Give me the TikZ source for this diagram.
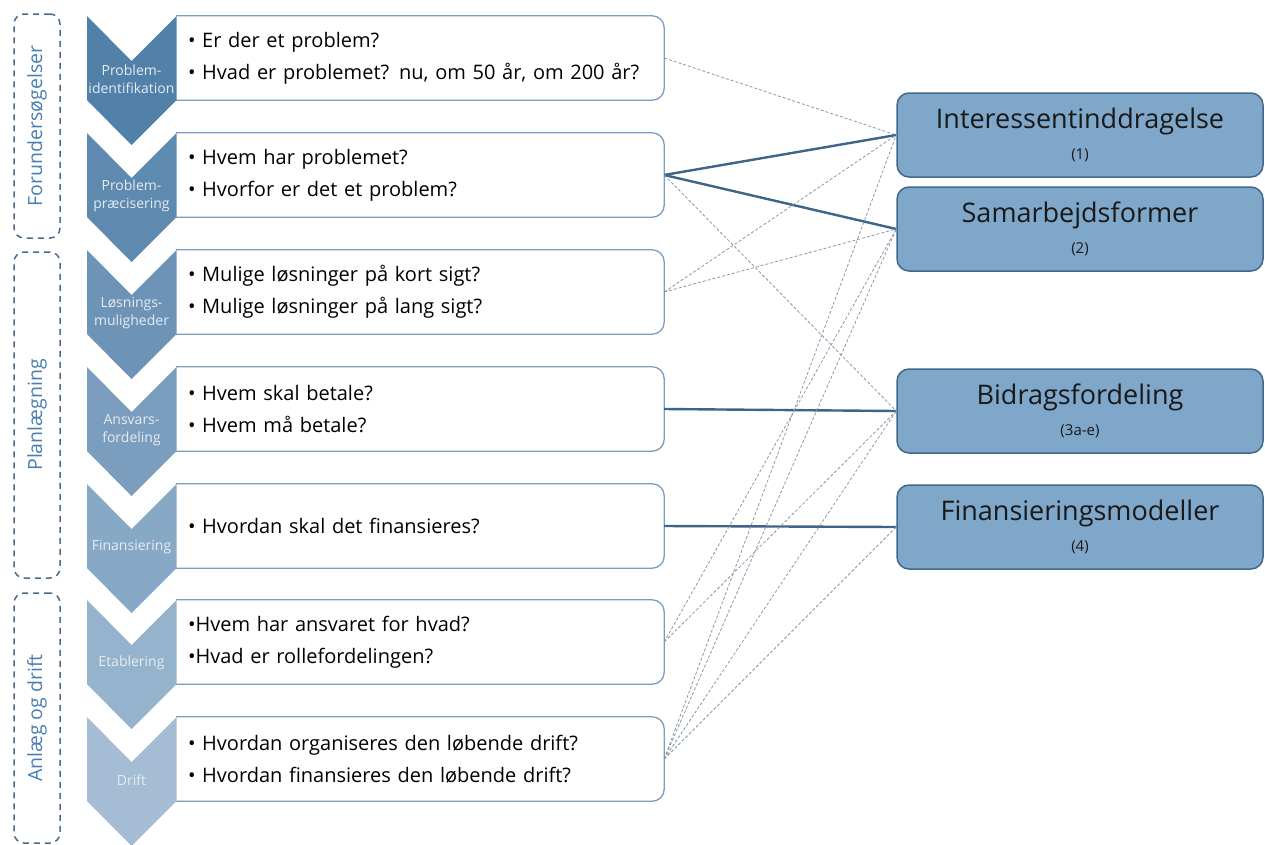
\documentclass[tikz,border=0pt]{standalone}
\usepackage{fontspec}
\setmainfont{Open Sans}
\definecolor{chevA}{HTML}{5180A9}
\definecolor{chevB}{HTML}{A4BDD4}
\definecolor{qborder}{HTML}{7C9DBD}
\definecolor{rfill}{HTML}{7FA7CA}
\definecolor{rborder}{HTML}{44688A}
\definecolor{solidc}{HTML}{3E6487}
\definecolor{dashc}{HTML}{8897AB}
\definecolor{grpc}{HTML}{4B6B8A}
\definecolor{grptext}{HTML}{4A7EB0}
\tikzset{
  qbox/.style={draw=none, minimum width=488pt, minimum height=84pt, text width=464pt,
    inner xsep=12pt, align=left, font=\fontsize{20}{32}\selectfont, text=black},
  qline/.style={draw=qborder, line width=1.3pt, rounded corners=12pt},
  rbox/.style={draw=rborder, fill=rfill, line width=1.5pt, rounded corners=12pt,
    minimum width=366pt, minimum height=84pt, align=center, text=black!90,
    font=\fontsize{27}{31}\selectfont},
  grp/.style={draw=grpc, line width=1.5pt, dash pattern=on 6pt off 5pt, rounded corners=10pt,
    minimum width=46pt, text=grptext, font=\fontsize{19.5}{22}\selectfont},
  chevlab/.style={align=center, text=white!85!chevA, font=\fontsize{14}{18}\selectfont},
  strong/.style={draw=solidc, line width=2.4pt},
  weak/.style={draw=dashc, line width=0.8pt, dash pattern=on 3pt off 2pt},
}
\newcommand{\subt}[1]{{\fontsize{15}{16}\selectfont #1}}
\begin{document}
\begin{tikzpicture}[x=1pt,y=-1pt]
\useasboundingbox (0,0) rectangle (1265,844);
% group boxes
\node[grp, minimum height=224pt] (g1) at (37,126) {\rotatebox{90}{Forundersøgelser}};
\node[grp, minimum height=326pt] (g2) at (37,415) {\rotatebox{90}{Planlægning}};
\node[grp, minimum height=250pt] (g3) at (37,718) {\rotatebox{90}{Anlæg og drift}};
% question boxes
\node[qbox] (b1) at (420,58)  {• Er der et problem?\\• Hvad er problemet? nu, om 50 år, om 200 år?};
\node[qbox] (b2) at (420,175) {• Hvem har problemet?\\• Hvorfor er det et problem?};
\node[qbox] (b3) at (420,292) {• Mulige løsninger på kort sigt?\\• Mulige løsninger på lang sigt?};
\node[qbox] (b4) at (420,409) {• Hvem skal betale?\\• Hvem må betale?};
\node[qbox] (b5) at (420,526) {• Hvordan skal det finansieres?};
\node[qbox] (b6) at (420,642) {•Hvem har ansvaret for hvad?\\•Hvad er rollefordelingen?};
\node[qbox] (b7) at (420,759) {• Hvordan organiseres den løbende drift?\\• Hvordan finansieres den løbende drift?};
\foreach \b in {b1,b2,b3,b4,b5,b6,b7}{
  \draw[qline] (\b.north west) -- (\b.north east) -- (\b.south east) -- (\b.south west);
}
% chevrons
\foreach \k/\t/\lab in {0/16/{Problem-\\identifikation},1/133/{Problem-\\præcisering},2/250/{Løsnings-\\muligheder},3/367/{Ansvars-\\fordeling},4/484/{Finansiering},5/600/{Etablering},6/717/{Drift}}{
  \pgfmathsetmacro{\p}{100-\k*100/6}
  \fill[fill=chevA!\p!chevB] (87,\t) -- (131.5,\t+45) -- (176.5,\t) -- (176.5,\t+84) -- (131.5,\t+129) -- (87,\t+84) -- cycle;
  \node[chevlab] (c\k) at (131.5,\t+63) {\lab};
}
% result boxes
\node[rbox] (r1) at (1080,135) {Interessentinddragelse\\\subt{(1)}};
\node[rbox] (r2) at (1080,229) {Samarbejdsformer\\\subt{(2)}};
\node[rbox] (r3) at (1080,411) {Bidragsfordeling\\\subt{(3a-e)}};
\node[rbox] (r4) at (1080,527) {Finansieringsmodeller\\\subt{(4)}};
% connectors
\draw[weak] (b1.east) -- (r1.west);
\draw[strong] (b2.east) -- (r1.west);
\draw[strong] (b2.east) -- (r2.west);
\draw[weak] (b2.east) -- (r3.west);
\draw[weak] (b3.east) -- (r1.west);
\draw[weak] (b3.east) -- (r2.west);
\draw[strong] (b4.east) -- (r3.west);
\draw[strong] (b5.east) -- (r4.west);
\draw[weak] (b6.east) -- (r2.west);
\draw[weak] (b6.east) -- (r3.west);
\draw[weak] (b7.east) -- (r1.west);
\draw[weak] (b7.east) -- (r2.west);
\draw[weak] (b7.east) -- (r3.west);
\draw[weak] (b7.east) -- (r4.west);
\end{tikzpicture}
\end{document}
